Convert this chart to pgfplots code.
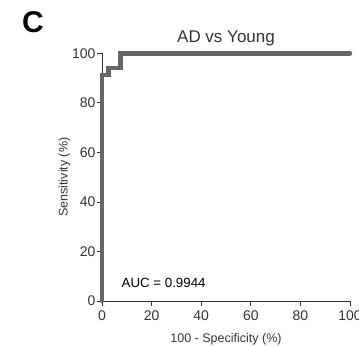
\documentclass[border=0pt]{standalone}
\usepackage{pgfplots}
\pgfplotsset{compat=1.18}
\usepackage{fontspec}
\setmainfont{Liberation Sans}
\definecolor{curve}{HTML}{666666}
\definecolor{axc}{HTML}{333333}
\begin{document}
\begin{tikzpicture}[x=1pt,y=1pt]
\path[use as bounding box] (0,0) rectangle (359,346);
\node[font=\fontsize{30}{30}\selectfont\bfseries] at (33,324) {C};
\begin{axis}[
  at={(102pt,45pt)}, anchor=origin,
  scale only axis, width=248pt, height=247.7pt,
  xmin=0, xmax=100, ymin=0, ymax=100,
  axis lines=left, axis line style={-, axc, line width=0.8pt},
  xtick={0,20,...,100}, ytick={0,20,...,100},
  tick align=outside, major tick length=5pt,
  tick style={axc, line width=0.8pt},
  ticklabel style={font=\fontsize{14}{14}\selectfont, text=axc},
  /pgf/number format/assume math mode=true,
  xticklabel style={yshift=-1pt},
  yticklabel style={xshift=2pt},
  xlabel={100 - Specificity (\%)},
  ylabel={Sensitivity (\%)},
  label style={font=\fontsize{12.5}{12.5}\selectfont, text=axc},
  xlabel style={yshift=-6pt},
  ylabel style={yshift=-5pt},
  title={AD vs Young},
  title style={font=\fontsize{17}{17}\selectfont, text=axc, yshift=-2pt},
  clip=false,
]
\addplot[curve, line width=4.5pt, line cap=round, line join=miter] coordinates {
(0,0) (0,91.2) (2.6,91.2) (2.6,94.1) (7.5,94.1) (7.5,100) (100,100)
};
\node[anchor=west, font=\fontsize{13.3}{13.3}\selectfont, text=black] at (axis cs:6.5,7.3) {AUC = 0.9944};
\end{axis}
\end{tikzpicture}
\end{document}
